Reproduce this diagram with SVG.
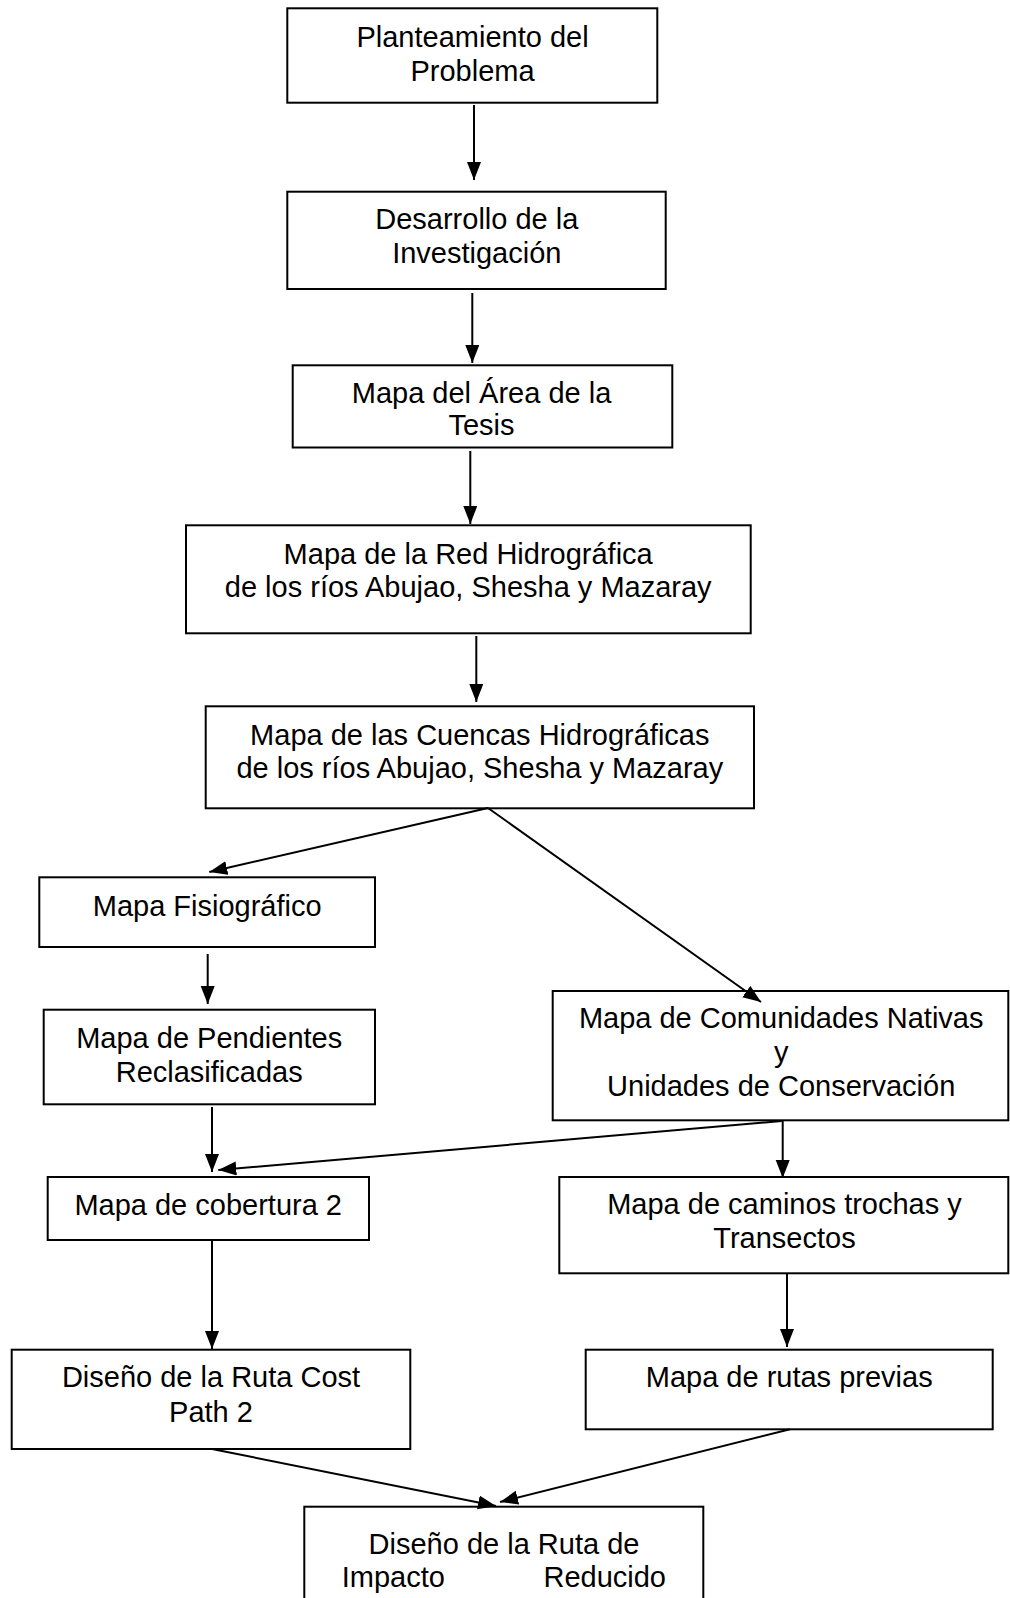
<svg xmlns="http://www.w3.org/2000/svg" width="1010" height="1598" viewBox="0 0 1010 1598">
<style>
.box{fill:#fff;stroke:#000;stroke-width:2}
.t{font-family:"Liberation Sans",Arial,sans-serif;font-size:29px;fill:#000;text-anchor:middle}
.c{fill:none;stroke:#000;stroke-width:2;marker-end:url(#ah)}
</style>
<defs>
<marker id="ah" markerUnits="userSpaceOnUse" markerWidth="19" markerHeight="15" refX="18" refY="7" orient="auto">
<path d="M0,0 L18,7 L0,14 z" fill="#000"/>
</marker>
</defs>
<rect width="1010" height="1598" fill="#fff"/>
<g id="n1">
<rect class="box" x="287.3" y="8.3" width="370" height="94.4"/>
<text class="t" x="472.5"><tspan x="472.5" y="46.7">Planteamiento del</tspan><tspan x="472.5" y="80.7">Problema</tspan></text>
</g>
<g id="n2">
<rect class="box" x="287.3" y="191.7" width="378.4" height="97.3"/>
<text class="t"><tspan x="476.8" y="229.3">Desarrollo de la</tspan><tspan x="476.8" y="263.3">Investigación</tspan></text>
</g>
<g id="n3">
<rect class="box" x="292.7" y="365.3" width="379.6" height="82.2"/>
<text class="t"><tspan x="481.5" y="402.7">Mapa del Área de la</tspan><tspan x="481.5" y="435">Tesis</tspan></text>
</g>
<g id="n4">
<rect class="box" x="186" y="525.3" width="564.7" height="108"/>
<text class="t"><tspan x="468.2" y="564">Mapa de la Red Hidrográfica</tspan><tspan x="468.2" y="597.3">de los ríos Abujao, Shesha y Mazaray</tspan></text>
</g>
<g id="n5">
<rect class="box" x="205.7" y="706.3" width="548.3" height="102"/>
<text class="t"><tspan x="479.8" y="745">Mapa de las Cuencas Hidrográficas</tspan><tspan x="479.8" y="778.3">de los ríos Abujao, Shesha y Mazaray</tspan></text>
</g>
<g id="n6">
<rect class="box" x="39.3" y="877.3" width="335.7" height="69.7"/>
<text class="t" x="207.2" y="916">Mapa Fisiográfico</text>
</g>
<g id="n7">
<rect class="box" x="43.7" y="1009.7" width="331.3" height="94.6"/>
<text class="t"><tspan x="209.2" y="1048.3">Mapa de Pendientes</tspan><tspan x="209.2" y="1081.7">Reclasificadas</tspan></text>
</g>
<g id="n8">
<rect class="box" x="47.7" y="1177" width="321.3" height="63"/>
<text class="t" x="208.2" y="1215">Mapa de cobertura 2</text>
</g>
<g id="n9">
<rect class="box" x="552.7" y="991" width="455.6" height="129.3"/>
<text class="t"><tspan x="781.2" y="1028.3">Mapa de Comunidades Nativas</tspan><tspan x="781.2" y="1062">y</tspan><tspan x="781.2" y="1096">Unidades de Conservación</tspan></text>
</g>
<g id="n10">
<rect class="box" x="559.3" y="1177" width="449" height="96.3"/>
<text class="t"><tspan x="784.5" y="1214.3">Mapa de caminos trochas y</tspan><tspan x="784.5" y="1248">Transectos</tspan></text>
</g>
<g id="n11">
<rect class="box" x="11.7" y="1349.7" width="398.6" height="99.3"/>
<text class="t"><tspan x="211" y="1387.3">Diseño de la Ruta Cost</tspan><tspan x="211" y="1421.7">Path 2</tspan></text>
</g>
<g id="n12">
<rect class="box" x="585.7" y="1349.7" width="407" height="79.6"/>
<text class="t" x="789.2" y="1386.7">Mapa de rutas previas</text>
</g>
<g id="n13">
<rect class="box" x="304.3" y="1506.7" width="399" height="120"/>
<text class="t"><tspan x="504" y="1554">Diseño de la Ruta de</tspan><tspan x="341.7" y="1586.7" text-anchor="start">Impacto</tspan><tspan x="666" y="1586.7" text-anchor="end">Reducido</tspan></text>
</g>
<g id="connectors">
<path class="c" d="M474,105 L474,180"/>
<path class="c" d="M472.3,293 L472.3,363"/>
<path class="c" d="M470.3,451 L470.3,524"/>
<path class="c" d="M476.3,636 L476.3,702"/>
<path class="c" d="M488,808 L209.3,872"/>
<path class="c" d="M488,808 L761,1002"/>
<path class="c" d="M207.7,954 L207.7,1004"/>
<path class="c" d="M212,1107 L212,1172"/>
<path class="c" d="M781.7,1121 L218.3,1170"/>
<path class="c" d="M782.7,1121 L782.7,1178"/>
<path class="c" d="M212,1241 L212,1349"/>
<path class="c" d="M787,1274 L787,1347"/>
<path class="c" d="M212,1449 L496,1506"/>
<path class="c" d="M790,1429.3 L500,1502"/>
</g>
</svg>
